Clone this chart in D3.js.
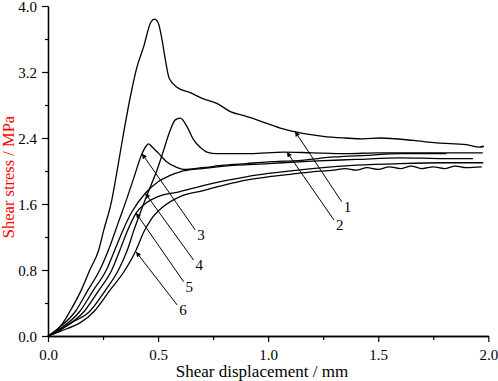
<!DOCTYPE html>
<html><head><meta charset="utf-8">
<script src="https://cdn.jsdelivr.net/npm/d3@7/dist/d3.min.js"></script>
<style>body{margin:0;background:#fff}svg{display:block}</style>
</head><body>
<svg id="chart" width="498" height="381"></svg>
<script>
// ---- data (shear displacement mm, shear stress MPa) ----
const curve1 = [[0,0],[0.03,0.05],[0.06,0.13],[0.10,0.30],[0.15,0.55],[0.19,0.80],[0.23,1.04],[0.253,1.28],[0.29,1.65],[0.315,2.02],[0.344,2.47],[0.374,2.90],[0.404,3.26],[0.435,3.51],[0.465,3.79],[0.484,3.84],[0.50,3.80],[0.518,3.59],[0.533,3.35],[0.551,3.12],[0.589,3.01],[0.646,2.95],[0.70,2.88],[0.767,2.82],[0.828,2.72],[0.89,2.67],[0.949,2.62],[1.055,2.52],[1.13,2.47],[1.25,2.42],[1.35,2.40],[1.43,2.39],[1.51,2.40],[1.66,2.37],[1.765,2.34],[1.90,2.32],[1.96,2.29],[1.98,2.30]];
const curve2 = [[0,0],[0.05,0.06],[0.10,0.15],[0.19,0.30],[0.26,0.55],[0.32,0.80],[0.36,1.04],[0.39,1.28],[0.42,1.50],[0.465,1.81],[0.495,2.01],[0.525,2.25],[0.556,2.50],[0.578,2.62],[0.601,2.64],[0.631,2.54],[0.661,2.38],[0.69,2.29],[0.722,2.23],[0.767,2.21],[0.918,2.21],[1.07,2.23],[1.2,2.22],[1.357,2.21],[1.5,2.22],[1.7,2.22],[1.975,2.22]];
const curve3 = [[0,0],[0.05,0.10],[0.125,0.30],[0.18,0.55],[0.235,0.80],[0.28,1.08],[0.32,1.38],[0.36,1.68],[0.39,1.92],[0.427,2.21],[0.445,2.30],[0.457,2.33],[0.47,2.30],[0.50,2.22],[0.54,2.11],[0.58,2.05],[0.616,2.02],[0.70,2.04],[0.80,2.07],[0.90,2.09],[1.0,2.11],[1.15,2.13],[1.3,2.17],[1.45,2.19],[1.6,2.21],[1.7,2.21],[1.81,2.21]];
const curve4 = [[0,0],[0.05,0.08],[0.145,0.30],[0.205,0.55],[0.265,0.80],[0.30,1.02],[0.34,1.28],[0.38,1.50],[0.442,1.73],[0.50,1.87],[0.55,1.94],[0.60,1.99],[0.70,2.03],[0.80,2.06],[1.0,2.09],[1.2,2.12],[1.4,2.14],[1.6,2.16],[1.8,2.15],[1.93,2.15]];
const curve5 = [[0,0],[0.05,0.07],[0.165,0.30],[0.23,0.55],[0.29,0.80],[0.325,1.03],[0.36,1.27],[0.40,1.49],[0.45,1.62],[0.50,1.69],[0.60,1.75],[0.70,1.82],[0.80,1.88],[0.90,1.93],[1.0,1.97],[1.2,2.03],[1.4,2.07],[1.6,2.09],[1.8,2.10],[1.977,2.10]];
const curve6 = [[0,0],[0.05,0.05],[0.21,0.30],[0.28,0.55],[0.35,0.80],[0.40,1.04],[0.435,1.26],[0.47,1.42],[0.52,1.56],[0.60,1.69],[0.70,1.76],[0.80,1.83],[0.90,1.89],[1.0,1.93],[1.1,1.96],[1.2,1.99],[1.3,2.01],[1.35,2.03],[1.40,2.01],[1.45,2.04],[1.50,2.02],[1.55,2.05],[1.60,2.03],[1.65,2.06],[1.70,2.03],[1.75,2.05],[1.80,2.03],[1.85,2.06],[1.90,2.04],[1.97,2.05]];
const seriesList = [curve1, curve2, curve3, curve4, curve5, curve6];

// annotation arrows: label, tip (x,y), tail (x,y) in data units
const annoLabels = ["1","2","3","4","5","6"];
const annoTip = [[1.122,2.48],[1.085,2.23],[0.427,2.21],[0.442,1.73],[0.40,1.49],[0.40,1.02]];
const annoTail = [[1.334,1.628],[1.299,1.406],[0.669,1.285],[0.661,0.921],[0.616,0.658],[0.587,0.376]];

const xTicks = [0.0, 0.5, 1.0, 1.5, 2.0];
const xMinor = [0.25, 0.75, 1.25, 1.75];
const yTicks = [0.0, 0.8, 1.6, 2.4, 3.2, 4.0];
const yMinor = [0.4, 1.2, 2.0, 2.8, 3.6];
const xTitle = "Shear displacement / mm";
const yTitle = "Shear stress / MPa";

// ---- drawing ----
const svg = d3.select("#chart");
const font = "'Liberation Serif','Times New Roman',serif";
const x = d3.scaleLinear().domain([0, 2]).range([48, 488.3]);
const y = d3.scaleLinear().domain([0, 4]).range([336, 6]);

svg.append("defs").append("marker")
  .attr("id", "ah").attr("viewBox", "0 0 10 10").attr("refX", 10).attr("refY", 5)
  .attr("markerWidth", 8).attr("markerHeight", 5).attr("markerUnits", "userSpaceOnUse")
  .attr("orient", "auto")
  .append("path").attr("d", "M0,0 L10,5 L0,10 Z").attr("fill", "#000");

const line = d3.line().x(d => x(d[0])).y(d => y(d[1])).curve(d3.curveMonotoneX);
svg.append("g").selectAll("path").data(seriesList).join("path")
  .attr("d", line).attr("fill", "none").attr("stroke", "#000").attr("stroke-width", 1.3)
  .attr("stroke-linejoin", "round");

// axes
function styleAxis(g) {
  g.selectAll("path.domain").attr("stroke", "#000").attr("stroke-width", 1.3);
  g.selectAll(".tick line").attr("stroke", "#000").attr("stroke-width", 1.2);
  g.selectAll("text").attr("font-family", font).attr("font-size", 15).attr("fill", "#000");
}
const xg = svg.append("g").attr("transform", "translate(0,336)")
  .call(d3.axisBottom(x).tickValues(xTicks).tickFormat(d3.format(".1f")).tickSize(6).tickSizeOuter(0).tickPadding(7));
styleAxis(xg);
const xm = svg.append("g").attr("transform", "translate(0,336)")
  .call(d3.axisBottom(x).tickValues(xMinor).tickFormat("").tickSize(4).tickSizeOuter(0));
styleAxis(xm);
const yg = svg.append("g").attr("transform", "translate(48,0)")
  .call(d3.axisLeft(y).tickValues(yTicks).tickFormat(d3.format(".1f")).tickSize(6).tickSizeOuter(0).tickPadding(5));
styleAxis(yg);
yg.selectAll(".tick text").attr("dy", "0.36em");
const ym = svg.append("g").attr("transform", "translate(48,0)")
  .call(d3.axisLeft(y).tickValues(yMinor).tickFormat("").tickSize(3).tickSizeOuter(0));
styleAxis(ym);

// titles
svg.append("text").attr("x", 262).attr("y", 377).attr("text-anchor", "middle")
  .attr("font-family", font).attr("font-size", 17).attr("fill", "#000").text(xTitle);
svg.append("text").attr("transform", "translate(14,177) rotate(-90)").attr("text-anchor", "middle")
  .attr("font-family", font).attr("font-size", 16.5).attr("fill", "#ff0000").text(yTitle);

// annotations
const ag = svg.append("g");
annoLabels.forEach((lab, i) => {
  const [tx, ty] = annoTip[i], [sx, sy] = annoTail[i];
  ag.append("line").attr("x1", x(sx)).attr("y1", y(sy)).attr("x2", x(tx)).attr("y2", y(ty))
    .attr("stroke", "#000").attr("stroke-width", 1).attr("marker-end", "url(#ah)");
  ag.append("text").attr("x", x(sx) + 2).attr("y", y(sy) + 10)
    .attr("font-family", font).attr("font-size", 15).attr("fill", "#000").text(lab);
});
</script>
</body></html>
